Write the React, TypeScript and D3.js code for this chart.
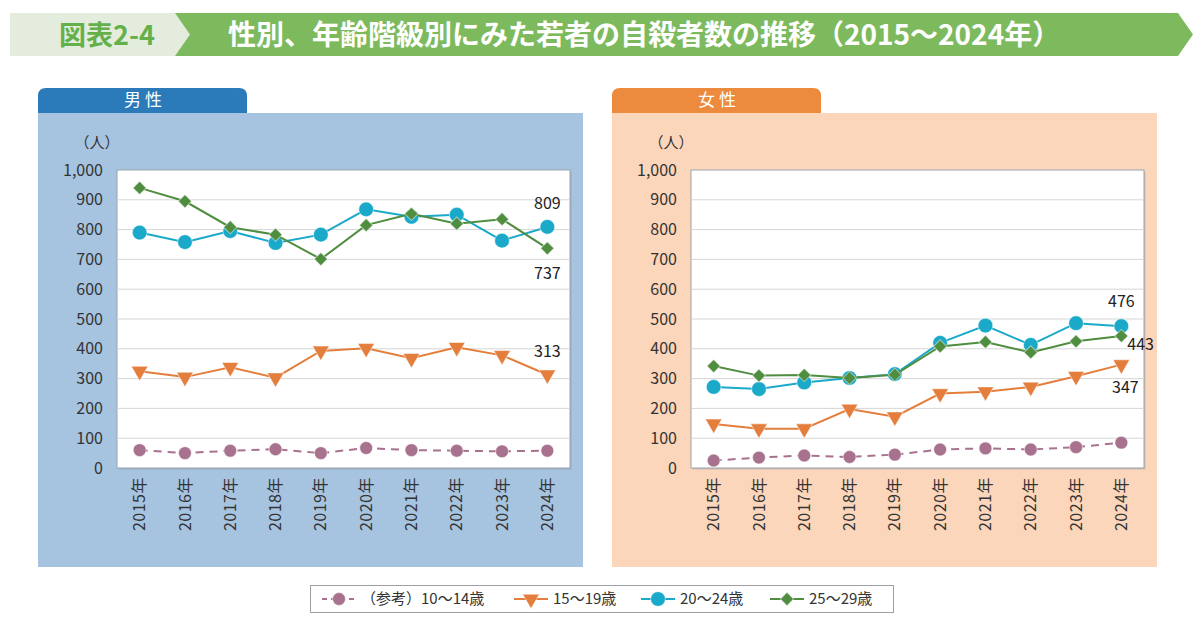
import * as d3 from "d3";

const years = ["2015年", "2016年", "2017年", "2018年", "2019年", "2020年", "2021年", "2022年", "2023年", "2024年"];
const yTicks = [0, 100, 200, 300, 400, 500, 600, 700, 800, 900, 1000];

// 男性
const male10to14 = [60, 50, 58, 63, 50, 67, 60, 58, 56, 58];
const male15to19 = [325, 305, 338, 303, 393, 402, 368, 405, 378, 313];
const male20to24 = [790, 758, 795, 755, 783, 868, 843, 850, 763, 809];
const male25to29 = [940, 895, 808, 783, 701, 815, 853, 820, 835, 737];

// 女性
const female10to14 = [25, 35, 42, 37, 45, 62, 66, 62, 70, 85];
const female15to19 = [148, 132, 132, 198, 172, 250, 256, 272, 308, 347];
const female20to24 = [272, 265, 287, 302, 315, 420, 478, 413, 486, 476];
const female25to29 = [342, 310, 312, 302, 313, 408, 423, 388, 425, 443];

const seriesNames = ["（参考）10～14歳", "15～19歳", "20～24歳", "25～29歳"];
const colors = ["#a8728f", "#e47e3c", "#1aa9c9", "#4f8d3f"];
const symbols = [d3.symbolCircle, d3.symbolTriangle, d3.symbolCircle, d3.symbolSquare];
const symbolSizes = [130, 120, 170, 88];
const symbolRot = [0, 180, 0, 45];

const FONT = "'Noto Sans CJK JP', 'Noto Sans', sans-serif";

type Label = { series: number; dx: number; dy: number; anchor: string };

function Marker({ i, x, y }: { i: number; x: number; y: number }) {
  const path = d3.symbol().type(symbols[i]).size(symbolSizes[i])()!;
  return (
    <path
      d={path}
      transform={`translate(${x},${y}) rotate(${symbolRot[i]})`}
      fill={colors[i]}
      stroke="#ffffff"
      strokeOpacity={0.5}
      strokeWidth={1}
    />
  );
}

function Panel({
  x0,
  title,
  tabColor,
  bgColor,
  data,
  labels,
}: {
  x0: number;
  title: string;
  tabColor: string;
  bgColor: string;
  data: number[][];
  labels: Label[];
}) {
  const plotLeft = x0 + 79;
  const plotRight = x0 + 532;
  const plotTop = 170;
  const plotBottom = 468;

  const x = d3.scaleBand().domain(years).range([plotLeft, plotRight]);
  const y = d3.scaleLinear().domain([0, 1000]).range([plotBottom, plotTop]);
  const cx = (d: string) => (x(d) ?? 0) + x.bandwidth() / 2;
  const line = d3
    .line<number>()
    .x((_, j) => cx(years[j]))
    .y((d) => y(d));

  return (
    <g>
      <path
        d={`M${x0},113 V96 Q${x0},88 ${x0 + 8},88 H${x0 + 201} Q${x0 + 209},88 ${x0 + 209},96 V113 Z`}
        fill={tabColor}
      />
      <text x={x0 + 105} y={106} textAnchor="middle" fill="#fff" fontSize={17} fontFamily={FONT}>
        {title}
      </text>
      <rect x={x0} y={113} width={545} height={454} fill={bgColor} />
      <rect x={plotLeft + 1.5} y={plotTop + 1.5} width={plotRight - plotLeft} height={plotBottom - plotTop} fill="#7f8a96" opacity={0.35} />
      <rect x={plotLeft} y={plotTop} width={plotRight - plotLeft} height={plotBottom - plotTop} fill="#fff" stroke="#9aa3ab" strokeWidth={1} />
      {yTicks.slice(1, -1).map((t) => (
        <line key={t} x1={plotLeft} x2={plotRight} y1={y(t)} y2={y(t)} stroke="#d6d6d6" strokeWidth={1} />
      ))}
      {yTicks.map((t) => (
        <text
          key={t}
          x={plotLeft - 14}
          y={y(t)}
          dy="0.35em"
          textAnchor="end"
          fontSize={16}
          fill="#333"
          fontFamily={FONT}
        >
          {d3.format(",")(t)}
        </text>
      ))}
      <text x={x0 + 59} y={148} textAnchor="middle" fontSize={15} fill="#333" fontFamily={FONT}>
        （人）
      </text>
      {years.map((yr) => (
        <text
          key={yr}
          transform={`translate(${cx(yr)},${plotBottom + 9}) rotate(-90)`}
          textAnchor="end"
          dy="0.35em"
          fontSize={16}
          letterSpacing={0.5}
          fill="#333"
          fontFamily={FONT}
        >
          {yr}
        </text>
      ))}
      {data.map((s, i) => (
        <g key={i}>
          <path
            d={line(s)!}
            fill="none"
            stroke={colors[i]}
            strokeWidth={2}
            strokeDasharray={i === 0 ? "8,6" : undefined}
          />
          {s.map((v, j) => (
            <Marker key={j} i={i} x={cx(years[j])} y={y(v)} />
          ))}
        </g>
      ))}
      {labels.map((l) => {
        const v = data[l.series][years.length - 1];
        return (
          <text
            key={l.series}
            x={cx(years[years.length - 1]) + l.dx}
            y={y(v) + l.dy}
            dy="0.35em"
            textAnchor={l.anchor}
            fontSize={16}
            fill="#222"
            fontFamily={FONT}
          >
            {v}
          </text>
        );
      })}
    </g>
  );
}

function Legend() {
  const itemX = [322, 514, 641, 770];
  const yMid = 599;
  return (
    <g>
      <rect x={310.5} y={585.5} width={583} height={27} fill="#fff" stroke="#a0a0a0" strokeWidth={1} />
      {seriesNames.map((n, i) => (
        <g key={n}>
          <line
            x1={itemX[i]}
            x2={itemX[i] + 34}
            y1={yMid}
            y2={yMid}
            stroke={colors[i]}
            strokeWidth={2}
            strokeDasharray={i === 0 ? "5,4" : undefined}
          />
          <Marker i={i} x={itemX[i] + 17} y={yMid} />
          <text x={itemX[i] + 39} y={yMid} dy="0.35em" fontSize={15} fill="#333" fontFamily={FONT}>
            {n}
          </text>
        </g>
      ))}
    </g>
  );
}

export default function App() {
  return (
    <svg
      width={1200}
      height={627}
      style={{ position: "absolute", left: 0, top: 0, background: "#fff" }}
    >
      {/* header */}
      <rect x={10} y={13} width={190} height={43} fill="#e4ecdd" />
      <path d="M175,13 H1178 L1193,34.5 L1178,56 H175 L190,34.5 Z" fill="#7dba5e" />
      <text x={107} y={35} dy="0.36em" textAnchor="middle" fontSize={27} fontWeight="bold" fill="#64b04a" fontFamily={FONT}>
        図表2-4
      </text>
      <text x={228} y={35} dy="0.36em" fontSize={28} fontWeight="bold" fill="#fff" fontFamily={FONT}>
        性別、年齢階級別にみた若者の自殺者数の推移（2015～2024年）
      </text>

      <Panel
        x0={38}
        title="男 性"
        tabColor="#2b7bbb"
        bgColor="#a6c3e0"
        data={[male10to14, male15to19, male20to24, male25to29]}
        labels={[
          { series: 2, dx: 0, dy: -24, anchor: "middle" },
          { series: 3, dx: 0, dy: 25, anchor: "middle" },
          { series: 1, dx: 0, dy: -23, anchor: "middle" },
        ]}
      />
      <Panel
        x0={612}
        title="女 性"
        tabColor="#ec8a3d"
        bgColor="#fbd6ba"
        data={[female10to14, female15to19, female20to24, female25to29]}
        labels={[
          { series: 2, dx: 0, dy: -25, anchor: "middle" },
          { series: 3, dx: 6, dy: 8, anchor: "start" },
          { series: 1, dx: 4, dy: 23, anchor: "middle" },
        ]}
      />
      <Legend />
    </svg>
  );
}
